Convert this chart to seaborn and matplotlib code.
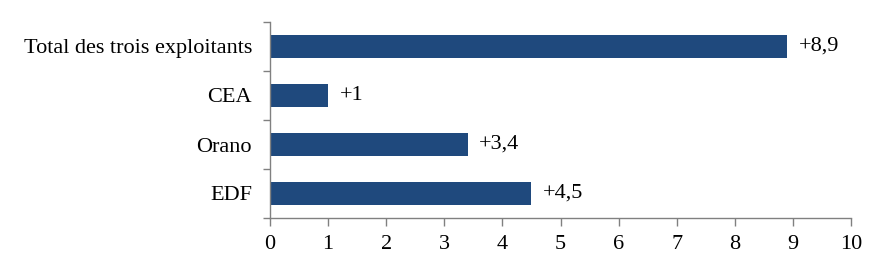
import matplotlib
matplotlib.use("Agg")
import matplotlib.pyplot as plt
import seaborn as sns
import pandas as pd

categories = ["Total des trois exploitants", "CEA", "Orano", "EDF"]
values = [8.9, 1.0, 3.4, 4.5]
labels = ["+8,9", "+1", "+3,4", "+4,5"]

sns.set_style("white")
plt.rcParams['font.family'] = ['Liberation Serif', 'DejaVu Serif']

df = pd.DataFrame({"cat": categories, "val": values})

FS = 16

fig = plt.figure(figsize=(8.84, 2.72), dpi=100)
ax = fig.add_axes([270/884, 1-218/272, (851-270)/884, (218-22)/272])
sns.barplot(data=df, x="val", y="cat", orient="h", color="#1F497D",
            saturation=1, width=0.46, linewidth=0, ax=ax)

for i, (v, t) in enumerate(zip(values, labels)):
    ax.text(v + 0.2, i, t, va="center", ha="left", fontsize=FS, color="black")

ax.set_xlim(0, 10)
ax.set_ylim(3.5, -0.5)
ax.set_xticks(range(0, 11))
ax.set_xlabel("")
ax.set_ylabel("")
ax.set_yticks([-0.5, 0.5, 1.5, 2.5, 3.5], minor=True)
ax.tick_params(axis="y", which="major", length=0, labelsize=FS, pad=13, labelcolor="black")
ax.tick_params(axis="y", which="minor", length=5, width=1, color="#808080", direction="out", left=True)
ax.tick_params(axis="x", length=6, width=1, color="#808080", labelsize=FS, direction="out",
               bottom=True, pad=6, labelcolor="black")
for s in ["top", "right"]:
    ax.spines[s].set_visible(False)
for s in ["left", "bottom"]:
    ax.spines[s].set_color("#808080")
    ax.spines[s].set_linewidth(1)

fig.savefig("out.png", dpi=100)
